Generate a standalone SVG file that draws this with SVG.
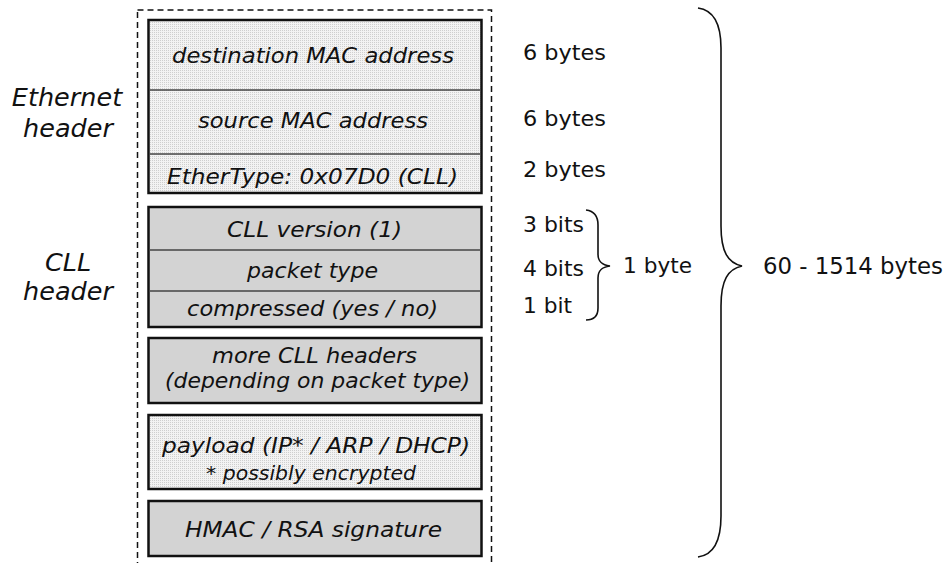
<svg xmlns="http://www.w3.org/2000/svg" width="949" height="563" viewBox="0 0 949 563">
<defs>
<pattern id="dots" width="2" height="2" patternUnits="userSpaceOnUse">
<rect width="2" height="2" fill="#f3f3f3"/>
<rect width="1" height="1" fill="#cfcfcf"/>
</pattern>
<style>
.box{stroke:#111;stroke-width:2.5}
.dotted{fill:url(#dots)}
.gray{fill:#d3d3d3}
.div{stroke:#444;stroke-width:1.5;fill:none}
.t{font-family:"DejaVu Sans","Liberation Sans",sans-serif;font-style:italic;font-size:22px;fill:#111;text-anchor:middle}
.s{font-family:"DejaVu Sans","Liberation Sans",sans-serif;font-size:22px;fill:#111}
.h{font-family:"DejaVu Sans","Liberation Sans",sans-serif;font-style:italic;font-size:25.5px;fill:#111;text-anchor:middle}
.brace{fill:none;stroke:#111;stroke-width:1.6}
</style>
</defs>
<rect id="frame" x="137.5" y="10" width="354" height="565" fill="none" stroke="#111" stroke-width="1.5" stroke-dasharray="6,4"/>
<g id="ethernet">
<rect class="box dotted" x="148.5" y="20" width="333" height="173"/>
<line class="div" x1="149" y1="90" x2="481" y2="90"/>
<line class="div" x1="149" y1="154" x2="481" y2="154"/>
<text class="t" x="313" y="63" textLength="282" lengthAdjust="spacingAndGlyphs">destination MAC address</text>
<text class="t" x="313" y="128" textLength="230" lengthAdjust="spacingAndGlyphs">source MAC address</text>
<text class="t" x="312.5" y="184" textLength="291" lengthAdjust="spacingAndGlyphs">EtherType: 0x07D0 (CLL)</text>
</g>
<g id="cll">
<rect class="box gray" x="148.5" y="207" width="333" height="120"/>
<line class="div" x1="149" y1="250" x2="481" y2="250"/>
<line class="div" x1="149" y1="291" x2="481" y2="291"/>
<text class="t" x="314.5" y="237" textLength="175" lengthAdjust="spacingAndGlyphs">CLL version (1)</text>
<text class="t" x="312.5" y="278" textLength="131" lengthAdjust="spacingAndGlyphs">packet type</text>
<text class="t" x="312.5" y="316" textLength="251" lengthAdjust="spacingAndGlyphs">compressed (yes / no)</text>
</g>
<g id="more">
<rect class="box gray" x="148.5" y="338" width="333" height="65"/>
<text class="t" x="314.5" y="363" textLength="205" lengthAdjust="spacingAndGlyphs">more CLL headers</text>
<text class="t" x="317.5" y="388" textLength="305" lengthAdjust="spacingAndGlyphs">(depending on packet type)</text>
</g>
<g id="payload">
<rect class="box dotted" x="148.5" y="415" width="333" height="74"/>
<text class="t" x="316" y="453" textLength="308" lengthAdjust="spacingAndGlyphs">payload (IP* / ARP / DHCP)</text>
<text class="t" x="311" y="480" style="font-size:19px" textLength="210" lengthAdjust="spacingAndGlyphs">* possibly encrypted</text>
</g>
<g id="hmac">
<rect class="box gray" x="148.5" y="501" width="333" height="55"/>
<text class="t" x="313.5" y="537" textLength="257" lengthAdjust="spacingAndGlyphs">HMAC / RSA signature</text>
</g>
<g id="labels">
<text class="h" x="67" y="106">Ethernet</text>
<text class="h" x="68" y="137">header</text>
<text class="h" x="68" y="271">CLL</text>
<text class="h" x="68" y="300">header</text>
<text class="s" x="523" y="60" textLength="83" lengthAdjust="spacingAndGlyphs">6 bytes</text>
<text class="s" x="523" y="126" textLength="83" lengthAdjust="spacingAndGlyphs">6 bytes</text>
<text class="s" x="523" y="177" textLength="83" lengthAdjust="spacingAndGlyphs">2 bytes</text>
<text class="s" x="523" y="232" textLength="61" lengthAdjust="spacingAndGlyphs">3 bits</text>
<text class="s" x="523" y="276" textLength="61" lengthAdjust="spacingAndGlyphs">4 bits</text>
<text class="s" x="523" y="313" textLength="49" lengthAdjust="spacingAndGlyphs">1 bit</text>
<text class="s" x="623" y="273" textLength="69" lengthAdjust="spacingAndGlyphs">1 byte</text>
<text class="s" x="763" y="274" style="font-size:22.5px" textLength="180" lengthAdjust="spacingAndGlyphs">60 - 1514 bytes</text>
</g>
<g id="connectors">
<path class="brace" d="M586,210 C594,211 598,216 598,225 L598,254 C598,262 602,265 610,266 C602,267 598,270 598,278 L598,308 C598,316 594,320 586,320"/>
<path class="brace" d="M698,8 C713,10 721,24 721,48 L721,226 C721,252 728,263 742,266 C728,269 721,280 721,306 L721,516 C721,541 713,555 698,557"/>
</g>
</svg>
